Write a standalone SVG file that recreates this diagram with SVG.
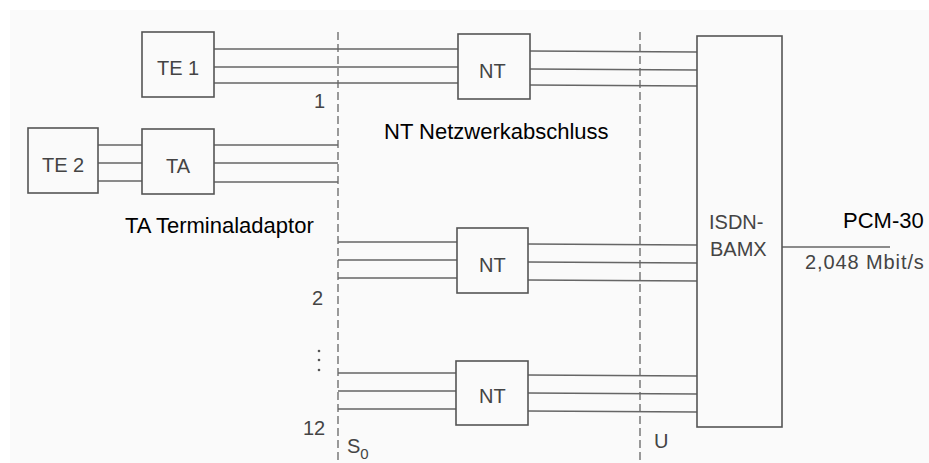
<svg xmlns="http://www.w3.org/2000/svg" width="929" height="463" viewBox="0 0 929 463">
<style>
.box{fill:none;stroke:#555;stroke-width:1.6}
.ln{fill:none;stroke:#666;stroke-width:1.5}
.dash{fill:none;stroke:#666;stroke-width:1.3;stroke-dasharray:8 4}
.g{font-family:"Liberation Sans",Arial,sans-serif;font-size:20px;fill:#444}
.b{font-family:"Liberation Sans",Arial,sans-serif;font-size:22px;fill:#000}
</style>
<rect x="0" y="0" width="929" height="463" fill="#ffffff"/>
<rect x="10" y="10" width="919" height="453" fill="#fafafa"/>
<g id="boundaries">
<line class="dash" x1="338" y1="32" x2="338" y2="463"/>
<line class="dash" x1="640" y1="32" x2="640" y2="463"/>
<text class="g" x="347" y="453">S<tspan font-size="15" dy="6">0</tspan></text>
<text class="g" x="654" y="448">U</text>
</g>
<g id="connectors">
<path class="ln" d="M214 49H458M214 67H458M214 83H458"/>
<path class="ln" d="M530 51L697 52M530 69L697 70M530 85L697 86"/>
<path class="ln" d="M98 145H142M98 163H142M98 181H142"/>
<path class="ln" d="M214 145H338M214 163H338M214 182H338"/>
<path class="ln" d="M338 242H457M338 260H457M338 278H457"/>
<path class="ln" d="M528 244L697 245M528 262L697 263M528 280L697 281"/>
<path class="ln" d="M338 373H456M338 391H456M338 409H456"/>
<path class="ln" d="M528 375L697 376M528 393L697 394M528 411L697 412"/>
<path class="ln" d="M782 247H890"/>
</g>
<g id="te1">
<rect class="box" x="142" y="32" width="72" height="65"/>
<text class="g" x="157" y="75">TE 1</text>
</g>
<g id="te2">
<rect class="box" x="28" y="128" width="70" height="65"/>
<text class="g" x="42" y="172">TE 2</text>
</g>
<g id="ta">
<rect class="box" x="142" y="129" width="72" height="65"/>
<text class="g" x="166" y="173">TA</text>
</g>
<g id="nt1">
<rect class="box" x="458" y="34" width="72" height="65"/>
<text class="g" x="479" y="78">NT</text>
</g>
<g id="nt2">
<rect class="box" x="457" y="228" width="71" height="65"/>
<text class="g" x="479" y="272">NT</text>
</g>
<g id="nt3">
<rect class="box" x="456" y="361" width="72" height="64"/>
<text class="g" x="479" y="403">NT</text>
</g>
<g id="bamx">
<rect class="box" x="697" y="36" width="85" height="391"/>
<text class="g" x="709" y="229" font-size="21">ISDN-</text>
<text class="g" x="710" y="256" font-size="21">BAMX</text>
</g>
<g id="labels">
<text class="g" x="314" y="108">1</text>
<text class="g" x="312" y="305">2</text>
<text class="g" x="303" y="435">12</text>
<circle cx="319" cy="351" r="1.3" fill="#555"/>
<circle cx="319" cy="360" r="1.3" fill="#555"/>
<circle cx="319" cy="370" r="1.3" fill="#555"/>
<text class="b" x="384" y="139">NT Netzwerkabschluss</text>
<text class="b" x="125" y="233">TA Terminaladaptor</text>
<text class="b" x="843" y="228">PCM-30</text>
<text class="g" x="805" y="269" letter-spacing="0.9">2,048 Mbit/s</text>
</g>
</svg>
